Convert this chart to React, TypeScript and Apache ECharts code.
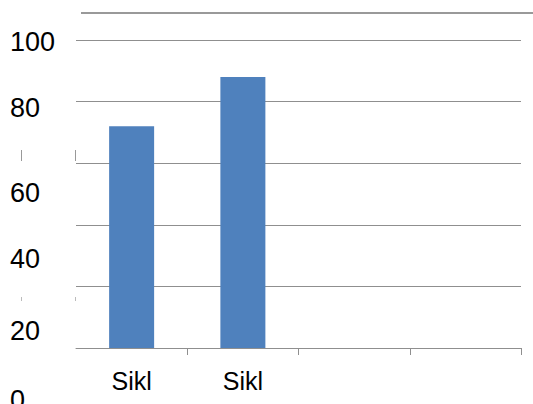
import React, { useEffect, useRef } from "react";
import * as echarts from "echarts";

const categories = ["Sikl", "Sikl", "", ""];
const values = [72, 88, null, null];
const yTicks = [0, 20, 40, 60, 80, 100];

const FONT = "'Liberation Sans', Arial, sans-serif";
const GRID_COLOR = "#8f8f8f";

export default function App() {
  const ref = useRef<HTMLDivElement>(null);
  useEffect(() => {
    if (!ref.current) return;
    const chart = echarts.init(ref.current, undefined, { renderer: "svg" });
    chart.setOption({
      animation: false,
      backgroundColor: "#ffffff",
      grid: [
        { left: 76, right: 12, top: 40, bottom: 56, outerBoundsMode: "none", containLabel: false },
        { left: 10, width: 20, top: 41.5, height: 362, outerBoundsMode: "none", containLabel: false },
      ],
      xAxis: [
        {
          type: "category",
          gridIndex: 0,
          data: categories,
          axisLine: { show: true, lineStyle: { color: GRID_COLOR, width: 1 } },
          axisTick: {
            show: true,
            length: 7,
            interval: (i: number) => i !== 0,
            lineStyle: { color: GRID_COLOR, width: 1 },
          },
          axisLabel: {
            show: true,
            interval: 0,
            color: "#000",
            fontFamily: FONT,
            fontSize: 25,
            margin: 20,
          },
          splitLine: { show: false },
        },
        { type: "value", gridIndex: 1, show: false, min: 0, max: 1 },
      ],
      yAxis: [
        {
          type: "value",
          gridIndex: 0,
          min: 0,
          max: 100,
          interval: 20,
          axisLine: { show: false },
          axisTick: { show: false },
          axisLabel: { show: false },
          splitLine: { show: true, lineStyle: { color: GRID_COLOR, width: 1 } },
        },
        {
          type: "value",
          gridIndex: 1,
          min: yTicks[0],
          max: yTicks[yTicks.length - 1],
          interval: yTicks[1] - yTicks[0],
          axisLine: { show: false },
          axisTick: { show: false },
          splitLine: { show: false },
          axisLabel: {
            show: true,
            inside: true,
            margin: 0,
            align: "left",
            color: "#000",
            fontFamily: FONT,
            fontSize: 27,
            formatter: (v: number) =>
              v === 60
                ? "{dn|" + v + "}"
                : v === 80
                ? "{up|" + v + "}"
                : v === 0
                ? "{z|" + v + "}"
                : "{n|" + v + "}",
            rich: {
              n: { fontSize: 27, fontFamily: FONT, color: "#000" },
              dn: { fontSize: 27, fontFamily: FONT, color: "#000", padding: [13, 0, 0, 0] },
              up: { fontSize: 27, fontFamily: FONT, color: "#000", padding: [0, 0, 12, 0] },
              z: { fontSize: 27, fontFamily: FONT, color: "#000", padding: [0, 0, 7, 0] },
            },
          },
        },
      ],
      series: [
        {
          type: "bar",
          xAxisIndex: 0,
          yAxisIndex: 0,
          data: values,
          barWidth: 45,
          itemStyle: { color: "#4f81bd" },
        },
      ],
      graphic: [
        { type: "line", shape: { x1: 81, y1: 13, x2: 533, y2: 13 }, style: { stroke: "#999", lineWidth: 2 } },
        { type: "line", shape: { x1: 21.5, y1: 150, x2: 21.5, y2: 161 }, style: { stroke: "#999", lineWidth: 1 } },
        { type: "line", shape: { x1: 75.5, y1: 150, x2: 75.5, y2: 161 }, style: { stroke: "#999", lineWidth: 1 } },
        { type: "line", shape: { x1: 21.5, y1: 297, x2: 21.5, y2: 301 }, style: { stroke: "#bbb", lineWidth: 1 } },
        { type: "line", shape: { x1: 75.5, y1: 297, x2: 75.5, y2: 301 }, style: { stroke: "#bbb", lineWidth: 1 } },
      ],
    });
    return () => chart.dispose();
  }, []);
  return (
    <div
      ref={ref}
      style={{ position: "fixed", left: 0, top: 0, width: 533, height: 404, background: "#fff" }}
    />
  );
}
